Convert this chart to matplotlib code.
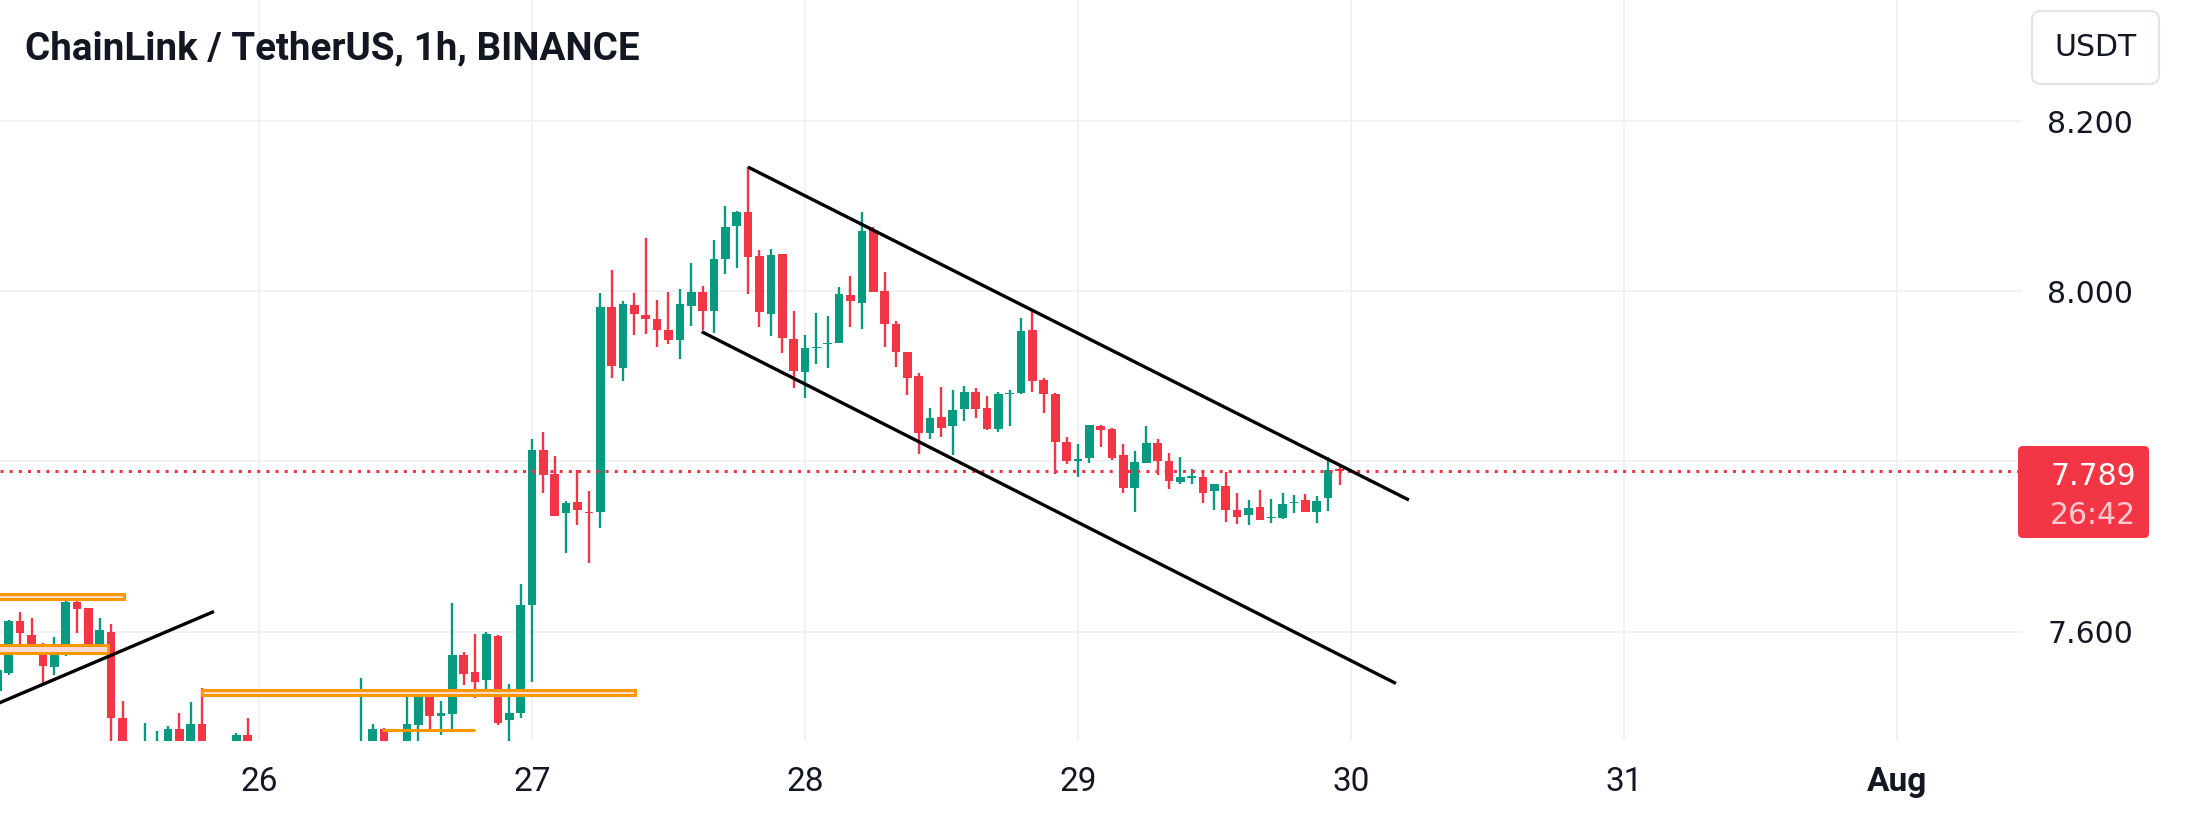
import matplotlib.pyplot as plt
from matplotlib.patches import FancyBboxPatch, Rectangle
from matplotlib.transforms import IdentityTransform

# Часы от 26 июля 00:00, свечи по 1h
hours = list(range(-23, 96))
opens = [
    7.530, 7.551, 7.613, 7.596, 7.584, 7.558, 7.576, 7.635, 7.628, 7.579,
    7.600, 7.498, 7.455, 7.440, 7.458, 7.462, 7.486, 7.460, 7.491, 7.460,
    7.445, 7.460, 7.479, 7.460, 7.430, 7.445, 7.440, 7.450, 7.438, 7.447,
    7.452, 7.446, 7.455, 7.462, 7.486, 7.460, 7.462, 7.490, 7.526, 7.501,
    7.503, 7.572, 7.552, 7.543, 7.595, 7.496, 7.504, 7.631, 7.813, 7.785,
    7.739, 7.752, 7.741, 7.740, 7.982, 7.910, 7.984, 7.972, 7.967, 7.954,
    7.943, 7.983, 7.999, 7.977, 8.038, 8.077, 8.093, 8.041, 7.973, 8.044,
    7.944, 7.905, 7.933, 7.938, 7.939, 7.996, 7.986, 8.072, 8.000, 7.962,
    7.928, 7.900, 7.833, 7.852, 7.841, 7.861, 7.881, 7.863, 7.838, 7.879,
    7.880, 7.954, 7.896, 7.879, 7.823, 7.801, 7.804, 7.842, 7.838, 7.807,
    7.769, 7.798, 7.822, 7.801, 7.776, 7.781, 7.782, 7.765, 7.771, 7.743,
    7.737, 7.746, 7.733, 7.733, 7.751, 7.755, 7.741, 7.757, 7.791,
]
highs = [
    7.560, 7.614, 7.623, 7.616, 7.586, 7.594, 7.643, 7.641, 7.628, 7.616,
    7.609, 7.518, 7.465, 7.492, 7.483, 7.489, 7.504, 7.517, 7.534, 7.468,
    7.462, 7.481, 7.498, 7.468, 7.455, 7.462, 7.458, 7.466, 7.455, 7.463,
    7.468, 7.462, 7.546, 7.491, 7.487, 7.469, 7.532, 7.531, 7.527, 7.518,
    7.634, 7.576, 7.597, 7.600, 7.596, 7.538, 7.656, 7.826, 7.835, 7.806,
    7.754, 7.790, 7.765, 7.998, 8.025, 7.988, 7.998, 8.063, 7.990, 7.999,
    8.003, 8.033, 8.006, 8.060, 8.100, 8.094, 8.146, 8.048, 8.050, 8.044,
    7.977, 7.949, 7.974, 7.971, 8.005, 8.018, 8.093, 8.075, 8.023, 7.965,
    7.929, 7.904, 7.863, 7.887, 7.884, 7.888, 7.886, 7.877, 7.881, 7.884,
    7.969, 7.979, 7.898, 7.880, 7.829, 7.821, 7.843, 7.843, 7.839, 7.821,
    7.812, 7.842, 7.826, 7.810, 7.805, 7.791, 7.790, 7.773, 7.788, 7.763,
    7.755, 7.766, 7.756, 7.763, 7.760, 7.762, 7.759, 7.805, 7.796,
]
lows = [
    7.520, 7.549, 7.578, 7.582, 7.539, 7.549, 7.571, 7.598, 7.577, 7.577,
    7.455, 7.440, 7.430, 7.432, 7.445, 7.450, 7.452, 7.455, 7.450, 7.430,
    7.425, 7.452, 7.455, 7.420, 7.410, 7.425, 7.415, 7.430, 7.420, 7.432,
    7.440, 7.430, 7.440, 7.450, 7.450, 7.440, 7.455, 7.462, 7.482, 7.478,
    7.486, 7.537, 7.522, 7.533, 7.490, 7.462, 7.499, 7.541, 7.763, 7.736,
    7.692, 7.725, 7.681, 7.722, 7.898, 7.895, 7.948, 7.950, 7.934, 7.938,
    7.920, 7.959, 7.954, 7.951, 8.020, 8.027, 7.997, 7.958, 7.947, 7.927,
    7.886, 7.875, 7.915, 7.910, 7.939, 7.958, 7.956, 7.999, 7.935, 7.911,
    7.878, 7.809, 7.826, 7.829, 7.808, 7.847, 7.851, 7.837, 7.834, 7.841,
    7.879, 7.881, 7.857, 7.785, 7.797, 7.782, 7.798, 7.817, 7.802, 7.763,
    7.740, 7.798, 7.784, 7.767, 7.773, 7.773, 7.751, 7.743, 7.729, 7.726,
    7.725, 7.731, 7.728, 7.732, 7.739, 7.740, 7.728, 7.742, 7.772,
]
closes = [
    7.555, 7.613, 7.598, 7.584, 7.560, 7.578, 7.635, 7.627, 7.578, 7.602,
    7.498, 7.455, 7.440, 7.458, 7.466, 7.486, 7.460, 7.491, 7.460, 7.445,
    7.458, 7.479, 7.460, 7.430, 7.445, 7.440, 7.450, 7.438, 7.447, 7.452,
    7.446, 7.455, 7.462, 7.486, 7.460, 7.462, 7.491, 7.526, 7.501, 7.504,
    7.572, 7.550, 7.541, 7.597, 7.493, 7.504, 7.631, 7.813, 7.784, 7.736,
    7.751, 7.743, 7.739, 7.981, 7.912, 7.985, 7.973, 7.967, 7.954, 7.943,
    7.985, 7.999, 7.977, 8.038, 8.076, 8.093, 8.040, 7.975, 8.043, 7.945,
    7.906, 7.933, 7.934, 7.939, 7.997, 7.988, 8.071, 7.999, 7.961, 7.928,
    7.898, 7.833, 7.851, 7.839, 7.860, 7.881, 7.861, 7.838, 7.879, 7.880,
    7.953, 7.894, 7.879, 7.823, 7.800, 7.803, 7.843, 7.837, 7.804, 7.769,
    7.799, 7.822, 7.800, 7.777, 7.782, 7.783, 7.763, 7.773, 7.743, 7.735,
    7.745, 7.731, 7.735, 7.750, 7.752, 7.740, 7.754, 7.790, 7.789,
]
last_price = 7.789
countdown = "26:42"

# Подписи дней по оси времени
day_hours = [0, 24, 48, 72, 96, 120, 144]
day_labels = ["26", "27", "28", "29", "30", "31", "Aug"]
# 7.800 закрыта меткой цены, поэтому без подписи
price_ticks = [7.6, 7.8, 8.0, 8.2]
price_labels = ["7.600", "", "8.000", "8.200"]

# Прямоугольные зоны (оранжевые)
zone_left = [-24, -24, -5.0, 10.8]
zone_right = [-11.9, -13.3, 33.1, 19.0]
zone_bottom = [7.6380, 7.5749, 7.5251, 7.4838]
zone_top = [7.6442, 7.5839, 7.5310, 7.4842]

# Трендовые линии и канал
trend_x = [(-24, -3.96), (42.99, 101.1), (38.92, 99.96)]
trend_y = [(7.5095, 7.6236), (8.1459, 7.7546), (7.9524, 7.539)]

GREEN = "#089981"
RED = "#F23645"
TEXT = "#131722"
GRID = "#EEF0F3"

W, H = 2187, 825
fig = plt.figure(figsize=(W / 100, H / 100), dpi=100)
ax = fig.add_axes([0, 1 - 741 / H, 2022 / W, 741 / H])

ax.set_xlim(-22.77, 155.0)
ax.set_ylim(7.4714, 8.3422)

#свечи
colors = [GREEN if c >= o else RED for o, c in zip(opens, closes)]
bottoms = [min(o, c) for o, c in zip(opens, closes)]
heights = [max(abs(c - o), 0.0016) for o, c in zip(opens, closes)]
ax.vlines(hours, lows, highs, colors=colors, linewidth=1.7, zorder=2)
ax.bar(hours, heights, bottom=bottoms, width=0.76, color=colors, zorder=3)

#линия текущей цены
ax.axhline(last_price, color=RED, linewidth=2.2, linestyle=(0, (1, 2)), zorder=4)

for x0, x1, y0, y1 in zip(zone_left, zone_right, zone_bottom, zone_top):
    ax.add_patch(Rectangle((x0, y0), x1 - x0, y1 - y0, facecolor="#FBDCD6",
                           edgecolor="#FF9800", linewidth=2.2, zorder=5))

for xs, ys in zip(trend_x, trend_y):
    ax.plot(xs, ys, color="black", linewidth=2.4, solid_capstyle="butt", zorder=6)

# Сетка и оси
ax.set_xticks(day_hours, labels=day_labels)
ax.set_yticks(price_ticks, labels=price_labels)
ax.yaxis.tick_right()
ax.grid(True, color=GRID, linewidth=1.2, zorder=0)
ax.set_axisbelow(True)
for s in ax.spines.values():
    s.set_visible(False)
ax.tick_params(axis="x", length=0, pad=18, labelsize=24, labelcolor=TEXT)
ax.tick_params(axis="y", length=0, pad=18, labelsize=21.5, labelcolor=TEXT)
for lbl in ax.get_xticklabels():
    lbl.set_fontfamily("Roboto")
ax.get_xticklabels()[-1].set_fontweight("bold")

fig.text(25 / W, 1 - 49 / H, "ChainLink / TetherUS, 1h, BINANCE", fontsize=27.7,
         fontweight="bold", family="Roboto", color=TEXT, va="center", ha="left")

# Кнопка валюты
fig.add_artist(FancyBboxPatch((2032, H - 84), 127, 73,
                              boxstyle="round,pad=0,rounding_size=9",
                              transform=IdentityTransform(), facecolor="white",
                              edgecolor="#E0E3EB", linewidth=1.5))
fig.text(2095 / W, 1 - 48 / H, "USDT", fontsize=21.5, color=TEXT, ha="center", va="center")

# Метка цены
fig.add_artist(FancyBboxPatch((2018, H - 538), 131, 92,
                              boxstyle="round,pad=0,rounding_size=5",
                              transform=IdentityTransform(), facecolor=RED,
                              edgecolor="none"))
fig.text(2093 / W, 1 - 476 / H, f"{last_price:.3f}", fontsize=21.5, color="white",
         ha="center", va="center")
fig.text(2093 / W, 1 - 515 / H, countdown, fontsize=21.5, color="white", alpha=0.75,
         ha="center", va="center")

fig.savefig("out.png", dpi=100, facecolor="white")
